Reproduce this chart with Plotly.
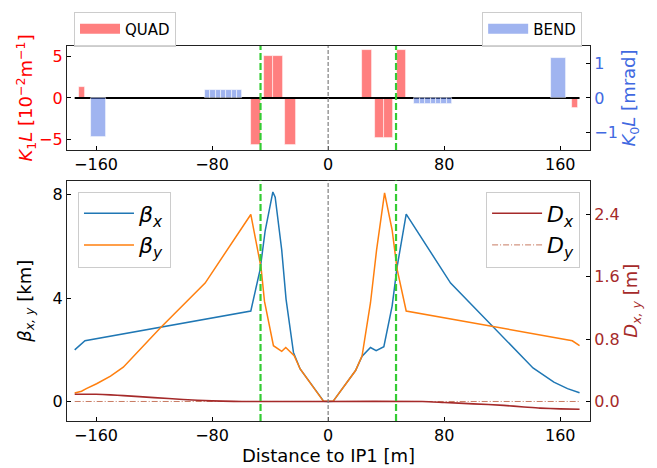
import plotly.graph_objects as go

# ---------------- data ----------------
# Quadrupoles: segment start/end [m] and integrated strength K1L [1e-2 m^-1]
quad_start = [-171.7, -53.4, -44.1, -37.7, -29.7, 23.0, 32.2, 38.4, 47.4, 168.3]
quad_end   = [-167.6, -46.6, -37.7, -31.2, -22.3, 30.0, 38.4, 44.6, 54.0, 172.2]
quad_k1l   = [1.3, -5.6, 5.0, 5.0, -5.6, 5.7, -4.8, -4.8, 5.7, -1.2]

# Bends: segment start/end [m] and K0L [mrad]
bend_start = [-163.2, -84.8, -81.1, -77.4, -73.8, -70.1, -66.4, -62.8,
              59.5, 63.2, 66.9, 70.6, 74.2, 77.9, 81.6, 153.8]
bend_end   = [-153.3, -81.1, -77.4, -73.8, -70.1, -66.4, -62.8, -59.1,
              63.2, 66.9, 70.6, 74.2, 77.9, 81.6, 85.3, 163.9]
bend_k0l   = [-1.15, 0.22, 0.22, 0.22, 0.22, 0.22, 0.22, 0.22,
              -0.19, -0.19, -0.19, -0.19, -0.19, -0.19, -0.19, 1.18]

line_s = [-174.7, 173.3]
line_zero = [0, 0]

# Beta functions [km]
betax_s = [-174.7, -171.0, -167.6, -53.3, -46.9, -43.4, -38.1, -36.5, -32.0, -29.0,
           -23.9, -19.3, -3.0, 0.0, 3.4, 18.9, 23.4, 29.2, 33.1, 38.4, 44.1, 47.6,
           53.8, 84.4, 141.2, 155.6, 165.0, 173.3]
betax   = [2.0, 2.2, 2.35, 3.5, 5.1, 6.6, 8.1, 7.9, 5.86, 3.95,
           1.9, 1.26, 0.01, 0.0, 0.01, 1.2, 1.75, 2.09, 1.97, 2.12, 3.69, 5.22,
           7.24, 4.58, 1.3, 0.75, 0.5, 0.34]

betay_s = [-174.7, -170.0, -166.7, -159.6, -150.0, -141.2, -115.9, -84.8, -53.3,
           -46.2, -43.9, -37.7, -32.0, -29.2, -23.4, -19.3, -3.2, 0.0, 3.4, 18.9,
           23.4, 29.2, 33.4, 38.9, 44.1, 47.6, 53.8, 168.3, 173.3]
betay   = [0.33, 0.4, 0.5, 0.69, 0.98, 1.33, 2.83, 4.58, 7.23,
           5.16, 3.88, 2.16, 1.94, 2.09, 1.77, 1.26, 0.01, 0.0, 0.01, 1.2,
           1.77, 3.82, 5.86, 8.06, 6.63, 5.1, 3.5, 2.35, 2.16]

# Dispersion [m]
dx_s = [-174.7, -160, -150, -141, -120, -100, -80, -65, -55, 0, 65, 80, 100, 121, 135, 146, 160, 173.3]
dx   = [0.093, 0.092, 0.085, 0.075, 0.05, 0.025, 0.008, 0.001, 0.0, 0.0, 0.0,
        -0.013, -0.03, -0.05, -0.07, -0.085, -0.095, -0.10]
dy_s = [-174.7, 173.3]
dy   = [0.0, 0.0]

ip_s = 0.0
marker_s = [-46.6, 46.8]

xticks = [-160, -80, 0, 80, 160]

# ---------------- figure ----------------
FONT = "DejaVu Sans"
QUAD_C = "rgba(255,0,0,0.5)"
BEND_C = "rgba(65,105,225,0.5)"

fig = go.Figure()

q_center = [(a + b) / 2 for a, b in zip(quad_start, quad_end)]
q_width = [b - a for a, b in zip(quad_start, quad_end)]
b_center = [(a + b) / 2 for a, b in zip(bend_start, bend_end)]
b_width = [b - a for a, b in zip(bend_start, bend_end)]

fig.add_trace(go.Bar(x=b_center, y=bend_k0l, width=b_width, base=0,
                     marker=dict(color=BEND_C, line=dict(color="rgba(255,255,255,0.7)", width=0.8)),
                     xaxis="x", yaxis="y2", showlegend=False, hoverinfo="skip"))
fig.add_trace(go.Bar(x=q_center, y=quad_k1l, width=q_width, base=0,
                     marker=dict(color=QUAD_C, line=dict(color="rgba(255,255,255,0.7)", width=0.8)),
                     xaxis="x", yaxis="y", showlegend=False, hoverinfo="skip"))
fig.add_trace(go.Scatter(x=line_s, y=line_zero, mode="lines", line=dict(color="black", width=2),
                         xaxis="x", yaxis="y", showlegend=False, hoverinfo="skip"))

# legend proxies for bars
fig.add_trace(go.Scatter(x=[None], y=[None], mode="lines", name="QUAD",
                         line=dict(color=QUAD_C, width=11), legend="legend", xaxis="x", yaxis="y"))
fig.add_trace(go.Scatter(x=[None], y=[None], mode="lines", name="BEND",
                         line=dict(color=BEND_C, width=11), legend="legend2", xaxis="x", yaxis="y"))

# bottom panel
fig.add_trace(go.Scatter(x=dy_s, y=dy, mode="lines", name="<i>D</i><sub><i>y</i></sub>",
                         line=dict(color="rgba(190,100,70,0.85)", width=1, dash="6px,2px,1px,2px"),
                         xaxis="x2", yaxis="y4", legend="legend4"))
fig.add_trace(go.Scatter(x=dx_s, y=dx, mode="lines", name="<i>D</i><sub><i>x</i></sub>",
                         line=dict(color="#a52a2a", width=1.6, shape="spline", smoothing=0.6),
                         xaxis="x2", yaxis="y4", legend="legend4"))
fig.add_trace(go.Scatter(x=betax_s, y=betax, mode="lines", name="<i>β</i><sub><i>x</i></sub>",
                         line=dict(color="#1f77b4", width=1.5),
                         xaxis="x2", yaxis="y3", legend="legend3"))
fig.add_trace(go.Scatter(x=betay_s, y=betay, mode="lines", name="<i>β</i><sub><i>y</i></sub>",
                         line=dict(color="#ff7f0e", width=1.5),
                         xaxis="x2", yaxis="y3", legend="legend3"))

shapes = []
for yd in ["y domain", "y3 domain"]:
    xr = "x" if yd == "y domain" else "x2"
    shapes.append(dict(type="line", xref=xr, yref=yd, x0=ip_s, x1=ip_s, y0=0, y1=1,
                       line=dict(color="gray", width=1.2, dash="4px,2px"), layer="above"))
    for s in marker_s:
        shapes.append(dict(type="line", xref=xr, yref=yd, x0=s, x1=s, y0=0, y1=1,
                           line=dict(color="#33cc33", width=2.2, dash="7px,3px"), layer="above"))

axis_common = dict(ticks="inside", ticklen=4, tickwidth=1, tickcolor="black",
                   showline=True, linecolor="#222", linewidth=1.3, showgrid=False,
                   zeroline=False, automargin=False, tickfont=dict(family=FONT, size=16))

XR = [-180, 180.5]
TOP_LO = 0.7230
BOT_HI = 0.6412

fig.update_layout(
    width=657, height=468,
    margin=dict(l=67, r=67, t=42, b=47),
    plot_bgcolor="white", paper_bgcolor="white",
    barmode="overlay", bargap=0,
    font=dict(family=FONT, color="black"),
    shapes=shapes,
    xaxis=dict(axis_common, domain=[0, 1], anchor="y", range=XR, tickvals=xticks, mirror=True),
    yaxis=dict(axis_common, domain=[TOP_LO, 1], anchor="x", range=[-6.2, 6.2], tickvals=[-5, 0, 5],
               tickfont=dict(family=FONT, size=16, color="red"),
               title=dict(text="<i>K</i><sub>1</sub><i>L</i> [10<sup>−2</sup>m<sup>−1</sup>]",
                          font=dict(family=FONT, size=18, color="red"), standoff=1)),
    yaxis2=dict(axis_common, overlaying="y", side="right", anchor="x", range=[-1.52, 1.52],
                tickvals=[-1, 0, 1], tickfont=dict(family=FONT, size=16, color="royalblue"),
                title=dict(text="<i>K</i><sub>0</sub><i>L</i> [mrad]",
                           font=dict(family=FONT, size=18, color="royalblue"), standoff=0)),
    xaxis2=dict(axis_common, domain=[0, 1], anchor="y3", range=XR, tickvals=xticks, mirror=True,
                title=dict(text="Distance to IP1 [m]", font=dict(family=FONT, size=18), standoff=4)),
    yaxis3=dict(axis_common, domain=[0, BOT_HI], anchor="x2", range=[-0.75, 8.54], tickvals=[0, 4, 8],
                title=dict(text="<i>β</i><sub><i>x, y</i></sub> [km]",
                           font=dict(family=FONT, size=18), standoff=16)),
    yaxis4=dict(axis_common, overlaying="y3", side="right", anchor="x2", range=[-0.25, 2.83],
                tickvals=[0, 0.8, 1.6, 2.4], tickformat=".1f",
                tickfont=dict(family=FONT, size=16, color="brown"),
                title=dict(text="<i>D</i><sub><i>x, y</i></sub> [m]",
                           font=dict(family=FONT, size=18, color="brown"), standoff=2)),
    legend=dict(x=0.0134, y=1.092, xanchor="left", yanchor="top", bgcolor="rgba(255,255,255,0.8)",
                bordercolor="#cccccc", borderwidth=1, font=dict(family=FONT, size=15), itemwidth=40),
    legend2=dict(x=0.985, y=1.092, xanchor="right", yanchor="top", bgcolor="rgba(255,255,255,0.8)",
                 bordercolor="#cccccc", borderwidth=1, font=dict(family=FONT, size=15), itemwidth=40),
    legend3=dict(x=0.021, y=0.612, xanchor="left", yanchor="top", bgcolor="rgba(255,255,255,0.8)",
                 bordercolor="#cccccc", borderwidth=1, font=dict(family=FONT, size=22),
                 traceorder="normal", itemwidth=50),
    legend4=dict(x=0.981, y=0.612, xanchor="right", yanchor="top", bgcolor="rgba(255,255,255,0.8)",
                 bordercolor="#cccccc", borderwidth=1, font=dict(family=FONT, size=22),
                 traceorder="reversed", itemwidth=50),
)

fig.write_html("out.html")
